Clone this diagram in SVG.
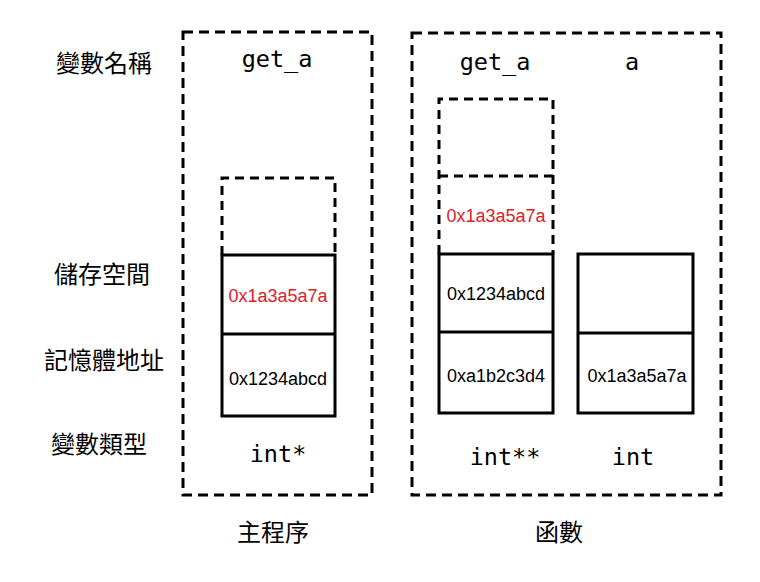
<svg xmlns="http://www.w3.org/2000/svg" width="760" height="582" viewBox="0 0 760 582">
<style>
.outer{fill:none;stroke:#000;stroke-width:3;stroke-dasharray:10 6}
.dash{fill:none;stroke:#000;stroke-width:3;stroke-dasharray:9 6}
.solid{fill:none;stroke:#000;stroke-width:3}
.cn{font-family:"Noto Sans CJK TC","Noto Sans CJK SC",sans-serif;font-size:24px;fill:#000;text-anchor:middle}
.mono{font-family:"DejaVu Sans Mono","Liberation Mono",monospace;font-size:23.5px;fill:#000;text-anchor:middle}
.hex{font-family:"Liberation Sans",Arial,sans-serif;font-size:18px;fill:#000;text-anchor:middle}
.red{fill:#e0202a}
</style>
<g id="labels">
<text class="cn" x="104" y="72">變數名稱</text>
<text class="cn" x="102" y="283">儲存空間</text>
<text class="cn" x="104" y="369">記憶體地址</text>
<text class="cn" x="99" y="453">變數類型</text>
</g>
<g id="main">
<rect class="outer" x="183" y="32" width="189" height="463"/>
<text class="mono" x="277" y="67">get_a</text>
<path class="dash" d="M222 255 V178 H335 V255"/>
<rect class="solid" x="222" y="255" width="113" height="161"/>
<line class="solid" x1="222" y1="334" x2="335" y2="334"/>
<text class="hex red" x="278" y="302">0x1a3a5a7a</text>
<text class="hex" x="278" y="385">0x1234abcd</text>
<text class="mono" x="278" y="462">int*</text>
<text class="cn" x="273" y="541">主程序</text>
</g>
<g id="func">
<rect class="outer" x="412" y="33" width="309" height="462"/>
<text class="mono" x="495" y="70">get_a</text>
<text class="mono" x="632" y="70">a</text>
<path class="dash" d="M439 254 V99 H553 V254 M439 176 H553"/>
<rect class="solid" x="439" y="254" width="114" height="159"/>
<line class="solid" x1="439" y1="332" x2="553" y2="332"/>
<text class="hex red" x="496" y="222">0x1a3a5a7a</text>
<text class="hex" x="496" y="300">0x1234abcd</text>
<text class="hex" x="496" y="382">0xa1b2c3d4</text>
<rect class="solid" x="578" y="254" width="115" height="159"/>
<line class="solid" x1="578" y1="333" x2="693" y2="333"/>
<text class="hex" x="637" y="382">0x1a3a5a7a</text>
<text class="mono" x="505" y="465">int**</text>
<text class="mono" x="633" y="465">int</text>
<text class="cn" x="559" y="541">函數</text>
</g>
<g id="connectors"></g>
</svg>
